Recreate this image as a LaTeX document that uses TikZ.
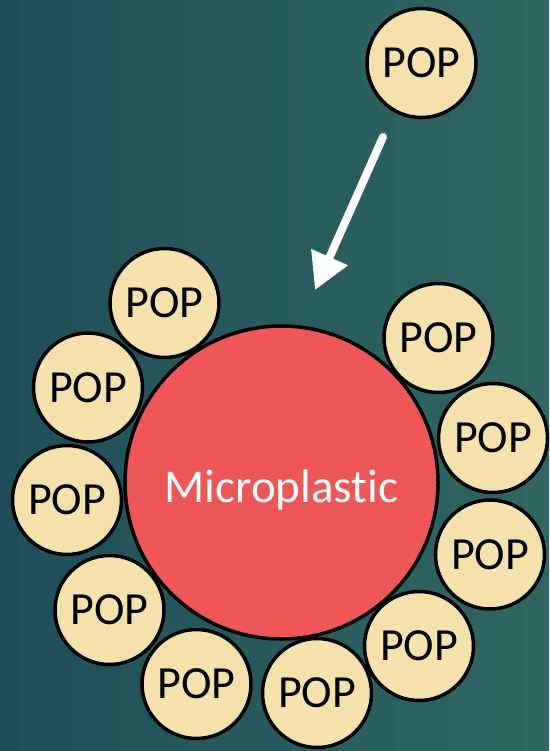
\documentclass[tikz,border=0pt]{standalone}
\usepackage{fontspec}
\setmainfont{Carlito}[Ligatures={NoCommon,NoRare}]
\usetikzlibrary{arrows.meta}
\definecolor{bgleft}{HTML}{1E4E58}
\definecolor{bgright}{HTML}{2E6762}
\definecolor{popfill}{HTML}{F5E2AA}
\definecolor{mpfill}{HTML}{EF5656}
\begin{document}
\begin{tikzpicture}[x=1pt,y=-1pt,
  pop/.style={circle, draw=black, line width=3.5pt, fill=popfill, minimum size=109pt, inner sep=0pt, font=\fontsize{46}{50}\selectfont, text=black},
  micro/.style={circle, draw=black, line width=3.5pt, fill=mpfill, minimum size=313pt, inner sep=0pt, font=\fontsize{47}{52}\selectfont, text=white, text height=40pt, text depth=0pt},
  flow/.style={draw=white, line width=8pt, line cap=round, -{Triangle[length=36pt,width=38pt]}}]
\shade[left color=bgleft, right color=bgright] (0,0) rectangle (549,751);
\useasboundingbox (0,0) rectangle (549,751);
\node[pop] (p0) at (421.5,63) {POP};
\node[pop] (p1) at (164.5,303) {POP};
\node[pop] (p2) at (88,387.5) {POP};
\node[pop] (p3) at (67,500) {POP};
\node[pop] (p4) at (109.5,610) {POP};
\node[pop] (p5) at (196.5,684) {POP};
\node[pop] (p6) at (317,693) {POP};
\node[pop] (p7) at (419,646) {POP};
\node[pop] (p8) at (490,554.5) {POP};
\node[pop] (p9) at (493,438) {POP};
\node[pop] (p10) at (438.5,338) {POP};
\node[micro] (mp) at (281.5,482.5) {Microplastic};
\coordinate (as) at (383,137);
\coordinate (ae) at (315,290);
\draw[flow] (as) -- (ae);
\end{tikzpicture}
\end{document}
